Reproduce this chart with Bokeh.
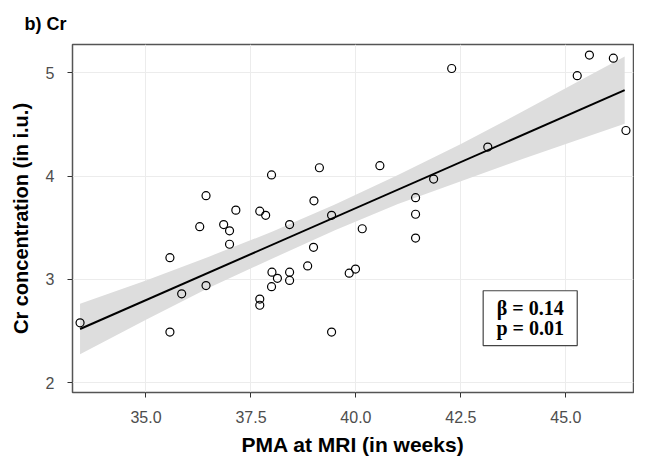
from bokeh.plotting import figure
from bokeh.models import FixedTicker, Range1d, NumeralTickFormatter
from bokeh.core.properties import value
from bokeh.embed import file_html
from bokeh.resources import INLINE

# Data
pma = [33.43, 35.57, 35.57, 35.85, 36.28, 36.43, 36.43, 36.85, 36.99, 36.99,
       37.14, 37.71, 37.71, 37.71, 37.85, 37.99, 37.99, 38.00, 38.13, 38.42,
       38.42, 38.42, 38.85, 38.99, 39.00, 39.13, 39.42, 39.42, 39.84, 39.99,
       40.15, 40.57, 41.42, 41.42, 41.42, 41.85, 42.28, 43.14, 45.27, 45.56,
       46.13, 46.43]
cr = [2.58, 3.21, 2.49, 2.86, 3.51, 3.81, 2.94, 3.53, 3.47, 3.34,
      3.67, 3.66, 2.81, 2.75, 3.62, 4.01, 2.93, 3.07, 3.01, 3.53,
      3.07, 2.99, 3.13, 3.31, 3.76, 4.08, 3.62, 2.49, 3.06, 3.10,
      3.49, 4.10, 3.79, 3.63, 3.40, 3.97, 5.04, 4.28, 4.97, 5.17,
      5.14, 4.44]

fit_x = [33.43, 46.40]
fit_y = [2.52, 4.83]

band_x = [33.43, 35.0, 36.5, 38.0, 39.5, 41.0, 42.5, 44.0, 45.5, 46.40]
band_upper = [2.765, 2.99, 3.22, 3.46, 3.725, 4.01, 4.31, 4.63, 4.96, 5.155]
band_lower = [2.275, 2.61, 2.92, 3.20, 3.475, 3.73, 3.95, 4.17, 4.38, 4.505]

x_ticks = [35.0, 37.5, 40.0, 42.5, 45.0]
y_ticks = [2, 3, 4, 5]

box_x = [43.03, 45.27]
box_y = [2.36, 2.89]
stats_text = ["\u03b2 = 0.14", "p = 0.01"]

p = figure(width=634, height=458, output_backend="svg", toolbar_location=None,
           x_range=Range1d(33.25, 46.61), y_range=Range1d(1.906, 5.272),
           min_border_left=72, min_border_right=1, min_border_top=43,
           min_border_bottom=60, background_fill_color="white",
           border_fill_color="white")

p.title.text = "b) Cr"
p.title.text_font = "Liberation Sans"
p.title.text_font_size = "18px"
p.title.text_font_style = "bold"
p.title.text_color = "black"
p.title.align = "left"
p.title.offset = -48
p.title.standoff = 22

p.outline_line_color = "#555555"
p.outline_line_width = 1.5

p.grid.grid_line_color = "#ececec"
p.grid.grid_line_width = 1

for ax in (p.xaxis, p.yaxis):
    ax.axis_line_color = None
    ax.major_tick_line_color = "#333333"
    ax.major_tick_line_width = 1
    ax.major_tick_out = 5
    ax.major_tick_in = 0
    ax.minor_tick_line_color = None
    ax.major_label_text_font = "Liberation Sans"
    ax.major_label_text_font_size = "16px"
    ax.major_label_text_color = "#4d4d4d"
    ax.axis_label_text_font = "Liberation Sans"
    ax.axis_label_text_font_style = "bold"
    ax.axis_label_text_color = "black"

p.xaxis.axis_label_text_font_size = "21px"
p.yaxis.axis_label_text_font_size = "20px"
p.xaxis.ticker = FixedTicker(ticks=x_ticks)
p.yaxis.ticker = FixedTicker(ticks=y_ticks)
p.xaxis.formatter = NumeralTickFormatter(format="0.0")
p.xaxis.axis_label = "PMA at MRI (in weeks)"
p.yaxis.axis_label = "Cr concentration (in i.u.)"
p.xaxis.major_label_standoff = 13
p.xaxis.axis_label_standoff = 7
p.yaxis.major_label_standoff = 13
p.yaxis.axis_label_standoff = 11

p.varea(x=band_x, y1=band_lower, y2=band_upper, fill_color="#dddddd", fill_alpha=1)
p.line(fit_x, fit_y, line_color="black", line_width=2)
p.scatter(pma, cr, marker="circle", size=8, fill_color=None,
          line_color="black", line_width=1.2)

# stats box
p.quad(left=[box_x[0]], right=[box_x[1]], bottom=[box_y[0]], top=[box_y[1]],
       fill_color="white", line_color="#444444", line_width=1.2)
xc = (box_x[0] + box_x[1]) / 2
p.text(x=[xc, xc], y=[box_y[1] - 0.17, box_y[1] - 0.36], text=stats_text,
       text_font=value("Liberation Serif"), text_font_size="20px",
       text_font_style="bold", text_align="center", text_baseline="middle",
       text_color="black")

open("out.html", "w").write(file_html(p, INLINE))
